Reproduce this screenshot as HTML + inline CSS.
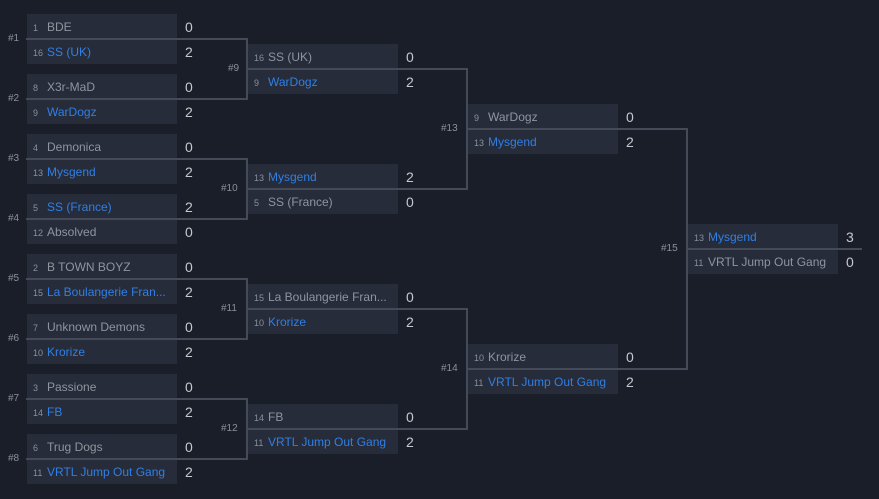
<!DOCTYPE html>
<html><head><meta charset="utf-8"><style>
body{margin:0;width:879px;height:499px;background:#1a1e29;position:relative;overflow:hidden;font-family:"Liberation Sans",sans-serif}
.m{position:absolute;width:178px;height:50px}
.r{position:absolute;left:0;width:150px;height:25px;background:#272c3a}
.r1{top:0}.r2{top:25px}
.s{position:absolute;left:6px;top:9px;font-size:9px;color:#8a909b}
.n{position:absolute;left:20px;top:6px;font-size:12px;color:#8f959f;white-space:nowrap}
.w .n{color:#2f7fe6}
.sc{position:absolute;left:158px;top:5px;font-size:14px;color:#c5c9cf}
.h{position:absolute;height:2px;background:#444a57;z-index:5}
.v{position:absolute;width:2px;background:#444a57;z-index:5}
.l{position:absolute;font-size:10px;color:#8a909b}
</style></head><body>
<!-- lines -->
<div class="h" style="left:26px;width:222px;top:38px"></div>
<div class="h" style="left:26px;width:222px;top:98px"></div>
<div class="h" style="left:26px;width:222px;top:158px"></div>
<div class="h" style="left:26px;width:222px;top:218px"></div>
<div class="h" style="left:26px;width:222px;top:278px"></div>
<div class="h" style="left:26px;width:222px;top:338px"></div>
<div class="h" style="left:26px;width:222px;top:398px"></div>
<div class="h" style="left:26px;width:222px;top:458px"></div>
<div class="v" style="left:246px;top:38px;height:62px"></div>
<div class="v" style="left:246px;top:158px;height:62px"></div>
<div class="v" style="left:246px;top:278px;height:62px"></div>
<div class="v" style="left:246px;top:398px;height:62px"></div>
<div class="h" style="left:246px;width:222px;top:68px"></div>
<div class="h" style="left:246px;width:222px;top:188px"></div>
<div class="h" style="left:246px;width:222px;top:308px"></div>
<div class="h" style="left:246px;width:222px;top:428px"></div>
<div class="v" style="left:466px;top:68px;height:122px"></div>
<div class="v" style="left:466px;top:308px;height:122px"></div>
<div class="h" style="left:466px;width:222px;top:128px"></div>
<div class="h" style="left:466px;width:222px;top:368px"></div>
<div class="v" style="left:686px;top:128px;height:242px"></div>
<div class="h" style="left:686px;width:176px;top:248px"></div>
<!-- labels -->
<div class="l" style="left:8px;top:33px">#1</div>
<div class="l" style="left:8px;top:93px">#2</div>
<div class="l" style="left:8px;top:153px">#3</div>
<div class="l" style="left:8px;top:213px">#4</div>
<div class="l" style="left:8px;top:273px">#5</div>
<div class="l" style="left:8px;top:333px">#6</div>
<div class="l" style="left:8px;top:393px">#7</div>
<div class="l" style="left:8px;top:453px">#8</div>
<div class="l" style="left:228px;top:63px">#9</div>
<div class="l" style="left:221px;top:183px">#10</div>
<div class="l" style="left:221px;top:303px">#11</div>
<div class="l" style="left:221px;top:423px">#12</div>
<div class="l" style="left:441px;top:123px">#13</div>
<div class="l" style="left:441px;top:363px">#14</div>
<div class="l" style="left:661px;top:243px">#15</div>

<div class="m" style="left:27px;top:14px"><div class="r r1"><span class="s">1</span><span class="n">BDE</span><span class="sc">0</span></div><div class="r r2 w"><span class="s">16</span><span class="n">SS (UK)</span><span class="sc">2</span></div></div>
<div class="m" style="left:27px;top:74px"><div class="r r1"><span class="s">8</span><span class="n">X3r-MaD</span><span class="sc">0</span></div><div class="r r2 w"><span class="s">9</span><span class="n">WarDogz</span><span class="sc">2</span></div></div>
<div class="m" style="left:27px;top:134px"><div class="r r1"><span class="s">4</span><span class="n">Demonica</span><span class="sc">0</span></div><div class="r r2 w"><span class="s">13</span><span class="n">Mysgend</span><span class="sc">2</span></div></div>
<div class="m" style="left:27px;top:194px"><div class="r r1 w"><span class="s">5</span><span class="n">SS (France)</span><span class="sc">2</span></div><div class="r r2"><span class="s">12</span><span class="n">Absolved</span><span class="sc">0</span></div></div>
<div class="m" style="left:27px;top:254px"><div class="r r1"><span class="s">2</span><span class="n">B TOWN BOYZ</span><span class="sc">0</span></div><div class="r r2 w"><span class="s">15</span><span class="n">La Boulangerie Fran...</span><span class="sc">2</span></div></div>
<div class="m" style="left:27px;top:314px"><div class="r r1"><span class="s">7</span><span class="n">Unknown Demons</span><span class="sc">0</span></div><div class="r r2 w"><span class="s">10</span><span class="n">Krorize</span><span class="sc">2</span></div></div>
<div class="m" style="left:27px;top:374px"><div class="r r1"><span class="s">3</span><span class="n">Passione</span><span class="sc">0</span></div><div class="r r2 w"><span class="s">14</span><span class="n">FB</span><span class="sc">2</span></div></div>
<div class="m" style="left:27px;top:434px"><div class="r r1"><span class="s">6</span><span class="n">Trug Dogs</span><span class="sc">0</span></div><div class="r r2 w"><span class="s">11</span><span class="n">VRTL Jump Out Gang</span><span class="sc">2</span></div></div>

<div class="m" style="left:248px;top:44px"><div class="r r1"><span class="s">16</span><span class="n">SS (UK)</span><span class="sc">0</span></div><div class="r r2 w"><span class="s">9</span><span class="n">WarDogz</span><span class="sc">2</span></div></div>
<div class="m" style="left:248px;top:164px"><div class="r r1 w"><span class="s">13</span><span class="n">Mysgend</span><span class="sc">2</span></div><div class="r r2"><span class="s">5</span><span class="n">SS (France)</span><span class="sc">0</span></div></div>
<div class="m" style="left:248px;top:284px"><div class="r r1"><span class="s">15</span><span class="n">La Boulangerie Fran...</span><span class="sc">0</span></div><div class="r r2 w"><span class="s">10</span><span class="n">Krorize</span><span class="sc">2</span></div></div>
<div class="m" style="left:248px;top:404px"><div class="r r1"><span class="s">14</span><span class="n">FB</span><span class="sc">0</span></div><div class="r r2 w"><span class="s">11</span><span class="n">VRTL Jump Out Gang</span><span class="sc">2</span></div></div>

<div class="m" style="left:468px;top:104px"><div class="r r1"><span class="s">9</span><span class="n">WarDogz</span><span class="sc">0</span></div><div class="r r2 w"><span class="s">13</span><span class="n">Mysgend</span><span class="sc">2</span></div></div>
<div class="m" style="left:468px;top:344px"><div class="r r1"><span class="s">10</span><span class="n">Krorize</span><span class="sc">0</span></div><div class="r r2 w"><span class="s">11</span><span class="n">VRTL Jump Out Gang</span><span class="sc">2</span></div></div>

<div class="m" style="left:688px;top:224px"><div class="r r1 w"><span class="s">13</span><span class="n">Mysgend</span><span class="sc">3</span></div><div class="r r2"><span class="s">11</span><span class="n">VRTL Jump Out Gang</span><span class="sc">0</span></div></div>
</body></html>
